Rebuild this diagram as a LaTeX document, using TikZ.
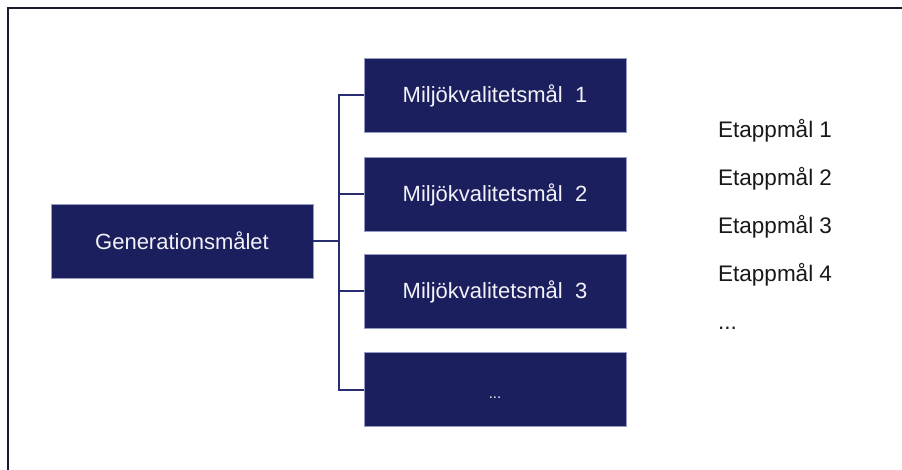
\documentclass[tikz,border=0pt]{standalone}
\usepackage{fontspec}
\setmainfont{Liberation Sans}
\definecolor{navy}{RGB}{27,31,94}
\definecolor{linec}{RGB}{40,44,112}
\definecolor{framec}{RGB}{26,26,48}
\definecolor{edgec}{RGB}{150,155,195}
\definecolor{boxtext}{RGB}{242,242,248}
\definecolor{goaltext}{RGB}{24,24,24}
\begin{document}
\begin{tikzpicture}[x=1pt,y=-1pt,
  box/.style={draw=edgec, line width=0.6pt, fill=navy, text=boxtext,
    minimum width=262pt, minimum height=74pt, inner sep=0pt,
    font=\fontsize{22}{25}\selectfont},
  conn/.style={draw=linec, line width=2pt},
  goal/.style={anchor=base west, inner sep=0pt, text=goaltext,
    font=\fontsize{22.5}{25}\selectfont}]
\useasboundingbox (0,0) rectangle (902,470);
\draw[framec, line width=2.5pt] (8,471) -- (8,8) -- (903,8);

\node[box] (gen) at (182,241) {Generationsmålet};
\node[box] (m1) at (495,95.5) {Miljökvalitetsmål\ \ 1};
\node[box] (m2) at (495,194.5) {Miljökvalitetsmål\ \ 2};
\node[box] (m3) at (495,291.5) {Miljökvalitetsmål\ \ 3};
\node[box] (m4) at (495,389.5) {};
\node[anchor=base, inner sep=0pt, text=boxtext, font=\fontsize{15}{17}\selectfont] (m4dots) at (495,398) {...};

\coordinate (bus) at (339,0);
\draw[conn] (gen.east) -- (gen.east -| bus);
\draw[conn] (m1.west) -- (m1.west -| bus) -- (m4.west -| bus) -- (m4.west);
\draw[conn] (m2.west) -- (m2.west -| bus);
\draw[conn] (m3.west) -- (m3.west -| bus);

\node[goal] (e1) at (718,137.3) {Etappmål 1};
\node[goal] (e2) at (718,185.5) {Etappmål 2};
\node[goal] (e3) at (718,233.5) {Etappmål 3};
\node[goal] (e4) at (718,281.5) {Etappmål 4};
\node[goal] (e5) at (718,329.5) {...};
\end{tikzpicture}
\end{document}
